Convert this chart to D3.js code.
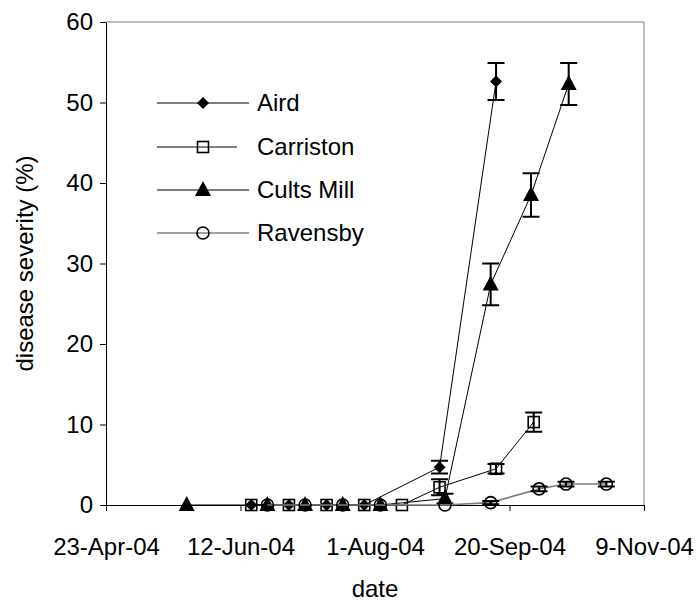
<!DOCTYPE html>
<html>
<head>
<meta charset="utf-8">
<script src="https://cdn.jsdelivr.net/npm/d3@7"></script>
<style>
  body { margin: 0; background: #fff; }
  text { font-family: "Liberation Sans", Arial, sans-serif; fill: #000; }
</style>
</head>
<body>
<svg id="chart" width="697" height="601"></svg>
<script>
// data
var airdDates = ["2004-06-16", "2004-06-30", "2004-07-14", "2004-07-28", "2004-08-25", "2004-09-15"]
var airdValues = [0, 0, 0, 0, 4.7, 52.6]
var airdErrors = [0, 0, 0, 0, 0.8, 2.3]

var carristonDates = ["2004-06-16", "2004-06-30", "2004-07-14", "2004-07-28", "2004-08-11", "2004-08-25", "2004-09-15", "2004-09-29"]
var carristonValues = [0, 0, 0, 0, 0, 2.2, 4.5, 10.3]
var carristonErrors = [0, 0, 0, 0, 0, 1.0, 0.6, 1.2]

var cultsDates = ["2004-05-23", "2004-06-22", "2004-07-06", "2004-07-20", "2004-08-03", "2004-08-27", "2004-09-13", "2004-09-28", "2004-10-12"]
var cultsValues = [0, 0, 0, 0, 0, 0.8, 27.4, 38.5, 52.3]
var cultsErrors = [0, 0, 0, 0, 0, 0.6, 2.6, 2.7, 2.6]

var ravensbyDates = ["2004-06-22", "2004-07-06", "2004-07-20", "2004-08-03", "2004-08-27", "2004-09-13", "2004-10-01", "2004-10-11", "2004-10-26"]
var ravensbyValues = [0, 0, 0, 0, 0, 0.3, 2.0, 2.6, 2.6]
var ravensbyErrors = [0, 0, 0, 0, 0, 0.2, 0.3, 0.3, 0.3]

var seriesNames = ["Aird", "Carriston", "Cults Mill", "Ravensby"]
var xTickDates = ["2004-04-23", "2004-06-12", "2004-08-01", "2004-09-20", "2004-11-09"]
var yTickValues = [0, 10, 20, 30, 40, 50, 60]

var dimensions = {
    width: 697,
    height: 601,
    margin: { top: 22, bottom: 96, left: 106, right: 53 }
}

var parse = d3.timeParse("%Y-%m-%d")
var svg = d3.select("#chart")

var xScale = d3.scaleTime()
               .domain([parse(xTickDates[0]), parse(xTickDates[xTickDates.length - 1])])
               .range([dimensions.margin.left, dimensions.width - dimensions.margin.right])

var yScale = d3.scaleLinear()
               .domain([0, 60])
               .range([dimensions.height - dimensions.margin.bottom, dimensions.margin.top])

function build(dates, values, errors) {
    return dates.map((d, i) => ({ date: parse(d), value: values[i], err: errors[i] }))
}

var series = [
    { name: seriesNames[0], data: build(airdDates, airdValues, airdErrors), marker: "diamond", line: "#000" },
    { name: seriesNames[1], data: build(carristonDates, carristonValues, carristonErrors), marker: "square", line: "#000" },
    { name: seriesNames[2], data: build(cultsDates, cultsValues, cultsErrors), marker: "triangle", line: "#000" },
    { name: seriesNames[3], data: build(ravensbyDates, ravensbyValues, ravensbyErrors), marker: "circle", line: "#7f7f7f" }
]

// plot area border (grey, top and right)
var x0 = xScale.range()[0], x1 = xScale.range()[1]
var yTop = yScale.range()[1], yBot = yScale.range()[0]
svg.append("path")
   .attr("d", `M${x0},${yTop}H${x1}V${yBot}`)
   .attr("fill", "none")
   .attr("stroke", "#808080")
   .attr("stroke-width", 1)

// axes
var xAxisGen = d3.axisBottom(xScale)
                 .tickValues(xTickDates.map(parse))
                 .tickFormat(d3.timeFormat("%-d-%b-%y"))
                 .tickSizeOuter(0)
                 .tickSizeInner(6)
                 .tickPadding(27)
var xAxis = svg.append("g")
               .attr("transform", `translate(0,${yBot})`)
               .call(xAxisGen)
xAxis.selectAll("text").style("font-size", "24px").attr("font-family", null)

var yAxisGen = d3.axisLeft(yScale)
                 .tickValues(yTickValues)
                 .tickSizeOuter(0)
                 .tickSizeInner(6)
                 .tickPadding(7)
var yAxis = svg.append("g")
               .attr("transform", `translate(${x0},0)`)
               .call(yAxisGen)
yAxis.selectAll("text").style("font-size", "24px").attr("font-family", null)

svg.selectAll(".domain").attr("stroke", "#000")
svg.selectAll(".tick line").attr("stroke", "#000")

// axis titles
svg.append("text")
   .attr("x", (x0 + x1) / 2)
   .attr("y", 597)
   .attr("text-anchor", "middle")
   .style("font-size", "24px")
   .text("date")

svg.append("text")
   .attr("transform", `translate(33,${(yTop + yBot) / 2}) rotate(-90)`)
   .attr("text-anchor", "middle")
   .style("font-size", "24px")
   .text("disease severity (%)")

// markers
function drawMarker(g, type, cx, cy) {
    if (type === "diamond") {
        g.append("path").attr("d", `M${cx},${cy - 6}L${cx + 6},${cy}L${cx},${cy + 6}L${cx - 6},${cy}Z`).attr("fill", "#000")
    } else if (type === "square") {
        g.append("rect").attr("x", cx - 5.5).attr("y", cy - 5.5).attr("width", 11).attr("height", 11)
         .attr("fill", "none").attr("stroke", "#000").attr("stroke-width", 1.6)
    } else if (type === "triangle") {
        g.append("path").attr("d", `M${cx},${cy - 9}L${cx + 8},${cy + 6}L${cx - 8},${cy + 6}Z`).attr("fill", "#000")
    } else {
        g.append("circle").attr("cx", cx).attr("cy", cy).attr("r", 6)
         .attr("fill", "none").attr("stroke", "#000").attr("stroke-width", 1.6)
    }
}

var line = d3.line().x(d => xScale(d.date)).y(d => yScale(d.value))

series.forEach(function(s) {
    var g = svg.append("g")
    g.append("path")
     .datum(s.data)
     .attr("d", line)
     .attr("fill", "none")
     .attr("stroke", s.line)
     .attr("stroke-width", s.marker === "circle" ? 1.6 : 1)

    // error bars
    s.data.filter(d => d.err > 0).forEach(function(d) {
        var cx = xScale(d.date)
        var yHi = yScale(d.value + d.err), yLo = yScale(d.value - d.err)
        g.append("path")
         .attr("d", `M${cx},${yHi}V${yLo}M${cx - 8.5},${yHi}H${cx + 8.5}M${cx - 8.5},${yLo}H${cx + 8.5}`)
         .attr("fill", "none")
         .attr("stroke", "#000")
         .attr("stroke-width", 2)
    })

    s.data.forEach(d => drawMarker(g, s.marker, xScale(d.date), yScale(d.value)))
})

// legend
var legendY = [103, 147, 190, 233]
var legendLineEnd = [249, 237, 249, 249]
series.forEach(function(s, i) {
    var g = svg.append("g")
    g.append("line")
     .attr("x1", 157).attr("x2", legendLineEnd[i])
     .attr("y1", legendY[i]).attr("y2", legendY[i])
     .attr("stroke", s.line)
     .attr("stroke-width", s.marker === "circle" ? 1.6 : 1)
    drawMarker(g, s.marker, 203, legendY[i])
    g.append("text")
     .attr("x", 257)
     .attr("y", legendY[i])
     .attr("dy", "0.35em")
     .style("font-size", "24px")
     .text(s.name)
})
</script>
</body>
</html>
